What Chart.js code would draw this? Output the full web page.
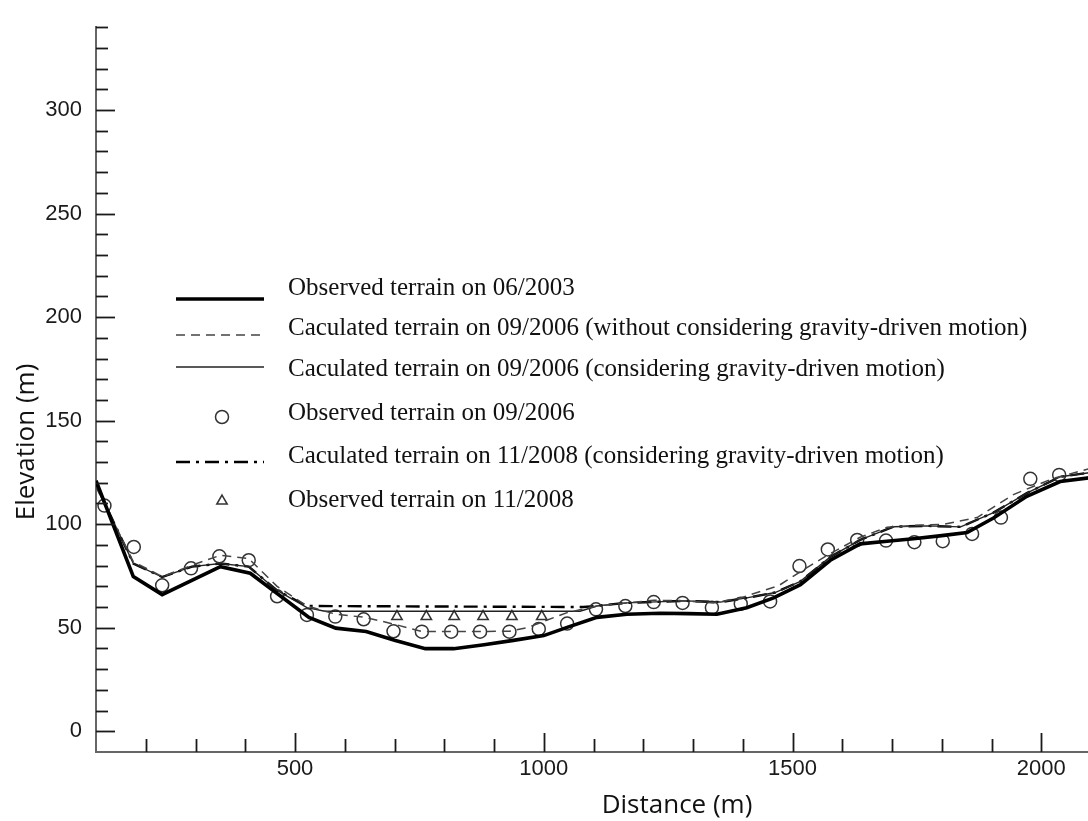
<!DOCTYPE html>
<html>
<head>
<meta charset="utf-8">
<script src="https://cdn.jsdelivr.net/npm/chart.js@4.4.1/dist/chart.umd.min.js"></script>
<style>
  html, body { margin: 0; padding: 0; background: #fff; overflow: hidden; }
  canvas { display: block; }
</style>
</head>
<body>
<canvas id="myChart" width="1100" height="821"></canvas>
<script>
// Observed terrain on 06/2003 (thick line)
const obs2003X = [100, 175, 233, 350, 410, 528, 582, 643, 700, 762, 819, 880, 939, 1000, 1047, 1107, 1167, 1234, 1290, 1348, 1408, 1462, 1516, 1576, 1636, 1690, 1743, 1800, 1851, 1904, 1971, 2038, 2100];
const obs2003Y = [121, 74.7, 66, 79.5, 76.3, 55, 49.8, 48.2, 44, 39.9, 39.9, 41.8, 43.9, 46.2, 50.2, 55, 56.5, 57, 56.8, 56.5, 59.7, 64.4, 70.8, 82.6, 90.5, 91.8, 93, 94.5, 96, 103, 113.5, 120.6, 122.5];

// Calculated 09/2006 without gravity-driven motion (dashed)
const calc2006NoGX = [100, 175, 233, 293, 350, 407, 464, 524, 581, 641, 698, 755, 814, 872, 931, 966, 1047, 1107, 1167, 1221, 1280, 1341, 1395, 1472, 1516, 1570, 1636, 1690, 1750, 1804, 1871, 1944, 2025, 2100];
const calc2006NoGY = [118, 81.9, 74.7, 80.2, 85, 83.4, 70, 60.5, 56.6, 55, 51.8, 48.2, 48.2, 48.2, 48.3, 50, 57.3, 60.5, 62, 63.3, 63, 62, 64.4, 70.3, 77.1, 85, 93.7, 98.5, 99.5, 100, 103.2, 114.3, 122.2, 127];

// Calculated 09/2006 considering gravity-driven motion (thin solid)
const calc2006GX = [100, 175, 233, 293, 350, 407, 464, 524, 560, 1073, 1107, 1167, 1284, 1355, 1408, 1465, 1516, 1576, 1636, 1703, 1770, 1838, 1904, 1971, 2038, 2100];
const calc2006GY = [119, 81, 74.5, 79.5, 81, 79.5, 68, 59.7, 58, 58, 60.5, 62, 63, 62.4, 64.4, 67, 72.4, 84.2, 92.4, 98.8, 99.2, 98.7, 105.6, 115, 122.9, 125];

// Observed terrain on 09/2006 (circles)
const obs2006X = [117, 176, 233, 291, 348, 407, 464, 524, 581, 638, 698, 755, 814, 872, 931, 990, 1047, 1105, 1164, 1221, 1279, 1338, 1396, 1455, 1514, 1571, 1630, 1688, 1745, 1802, 1861, 1919, 1978, 2036];
const obs2006Y = [109, 89, 70.5, 78.7, 84.5, 82.6, 65.2, 56.2, 55.4, 54.1, 48.3, 48.1, 48.1, 48.1, 48.1, 49.4, 52, 58.9, 60.5, 62.4, 62, 59.7, 61.6, 62.7, 79.8, 87.8, 92.4, 92.1, 91.3, 91.8, 95.3, 103.2, 121.9, 123.8];

// Calculated 11/2008 considering gravity-driven motion (dash-dot)
const calc2008X = [100, 175, 233, 293, 350, 407, 464, 524, 1080, 1167, 1284, 1355, 1408, 1465, 1516, 1576, 1636, 1703, 1770, 1838, 1904, 1971, 2038, 2100];
const calc2008Y = [119, 81, 74.5, 79.5, 81, 79.5, 68, 60.5, 60, 62, 63, 62.4, 64.4, 67, 72.4, 84.2, 92.4, 98.8, 99.2, 98.7, 105.6, 115, 122.9, 125];

// Observed terrain on 11/2008 (triangles)
const obs2008X = [705, 764, 820, 878, 936, 996];
const obs2008Y = [55.4, 55.4, 55.4, 55.4, 55.4, 55.4];

const xTickLabels = [500, 1000, 1500, 2000];
const yTickLabels = [0, 50, 100, 150, 200, 250, 300];

const pts = (xs, ys) => xs.map((x, i) => ({ x: x, y: ys[i] }));

const serif = '"Liberation Serif", "Times New Roman", serif';
const sans = '"Liberation Sans", Arial, sans-serif';

// legend rows: text centre y and symbol y
const legendRows = [
	{ ty: 288, sy: 299 },
	{ ty: 328, sy: 335 },
	{ ty: 369, sy: 367 },
	{ ty: 413, sy: 417 },
	{ ty: 456, sy: 462 },
	{ ty: 500, sy: 501 }
];

const overlay = {
	id: 'overlay',
	afterDraw(chart) {
		const { ctx, chartArea, scales } = chart;
		const x = scales.x, y = scales.y;
		ctx.save();
		// inward ticks
		ctx.strokeStyle = '#1a1a1a';
		ctx.lineWidth = 1.8;
		for (let v = 0; v <= 340; v += 10) {
			const py = Math.round(y.getPixelForValue(v)) + 0.5;
			const len = v % 50 === 0 ? 19 : 12;
			ctx.beginPath();
			ctx.moveTo(chartArea.left, py);
			ctx.lineTo(chartArea.left + len, py);
			ctx.stroke();
		}
		for (let v = 200; v <= 2100; v += 100) {
			const px = Math.round(x.getPixelForValue(v)) + 0.5;
			const len = v % 500 === 0 ? 19 : 13;
			ctx.beginPath();
			ctx.moveTo(px, chartArea.bottom);
			ctx.lineTo(px, chartArea.bottom - len);
			ctx.stroke();
		}

		// axis titles
		ctx.fillStyle = '#111';
		ctx.font = '26px "Open Sans", sans-serif';
		ctx.textAlign = 'center';
		ctx.textBaseline = 'alphabetic';
		ctx.fillText('Distance (m)', 677, 813);
		ctx.save();
		ctx.translate(34, 442);
		ctx.rotate(-Math.PI / 2);
		ctx.fillText('Elevation (m)', 0, 0);
		ctx.restore();

		// legend
		const x1 = 176, x2 = 264, xc = 222, tx = 288;
		chart.data.datasets.forEach((ds, i) => {
			const row = legendRows[i];
			ctx.save();
			if (ds.showLine === false) {
				ctx.fillStyle = 'rgba(0,0,0,0)';
				ctx.strokeStyle = ds.pointBorderColor;
				ctx.lineWidth = ds.pointBorderWidth;
				Chart.helpers.drawPoint(ctx, {
					pointStyle: ds.pointStyle,
					radius: ds.pointRadius,
					rotation: 0,
					borderWidth: ds.pointBorderWidth
				}, xc, row.sy);
			} else {
				ctx.strokeStyle = ds.borderColor;
				ctx.lineWidth = ds.borderWidth;
				ctx.setLineDash(ds.borderDash || []);
				ctx.beginPath();
				ctx.moveTo(x1, row.sy);
				ctx.lineTo(x2, row.sy);
				ctx.stroke();
			}
			ctx.restore();
			ctx.fillStyle = '#111';
			ctx.font = '25px ' + serif;
			ctx.textAlign = 'left';
			ctx.textBaseline = 'middle';
			ctx.fillText(ds.label, tx, row.ty);
		});
		ctx.restore();
	}
};

const lineSet = (label, data, color, width, dash) => ({
	label: label,
	data: data,
	borderColor: color,
	borderWidth: width,
	borderDash: dash,
	pointRadius: 0,
	fill: false,
	tension: 0
});

const pointSet = (label, data, style, r) => ({
	label: label,
	data: data,
	showLine: false,
	pointStyle: style,
	pointRadius: r,
	pointBorderWidth: 1.5,
	pointBorderColor: '#333',
	pointBackgroundColor: 'rgba(0,0,0,0)',
	borderColor: '#333'
});

const ctx = document.getElementById('myChart').getContext('2d');
const myChart = new Chart(ctx, {
	type: 'line',
	data: {
		datasets: [
			lineSet('Observed terrain on 06/2003', pts(obs2003X, obs2003Y), '#000', 3.6, []),
			lineSet('Caculated terrain on 09/2006 (without considering gravity-driven motion)', pts(calc2006NoGX, calc2006NoGY), '#444', 1.5, [9, 6]),
			lineSet('Caculated terrain on 09/2006 (considering gravity-driven motion)', pts(calc2006GX, calc2006GY), '#222', 1.4, []),
			pointSet('Observed terrain on 09/2006', pts(obs2006X, obs2006Y), 'circle', 6.5),
			lineSet('Caculated terrain on 11/2008 (considering gravity-driven motion)', pts(calc2008X, calc2008Y), '#000', 2.4, [14, 6, 3, 6]),
			pointSet('Observed terrain on 11/2008', pts(obs2008X, obs2008Y), 'triangle', 6)
		]
	},
	options: {
		responsive: false,
		animation: false,
		devicePixelRatio: 1,
		layout: { padding: { top: 14, right: 9, left: 0, bottom: 0 } },
		plugins: {
			legend: { display: false },
			tooltip: { enabled: false }
		},
		scales: {
			x: {
				type: 'linear',
				min: 100,
				max: 2100,
				afterFit: s => { s.height = 69; },
				afterBuildTicks: s => { s.ticks = xTickLabels.map(v => ({ value: v })); },
				grid: { display: false, drawTicks: false },
				border: { display: true, color: '#666', width: 2 },
				ticks: {
					color: '#1a1a1a', padding: 4, maxRotation: 0,
					font: { family: sans, size: 22 },
					callback: v => String(v)
				}
			},
			y: {
				type: 'linear',
				min: -10,
				max: 340,
				afterFit: s => { s.width = 96; },
				afterBuildTicks: s => { s.ticks = yTickLabels.map(v => ({ value: v })); },
				grid: { display: false, drawTicks: false },
				border: { display: true, color: '#666', width: 2 },
				ticks: {
					color: '#1a1a1a', padding: 14,
					font: { family: sans, size: 22 },
					callback: v => String(v)
				}
			}
		}
	},
	plugins: [overlay]
});
</script>
</body>
</html>
